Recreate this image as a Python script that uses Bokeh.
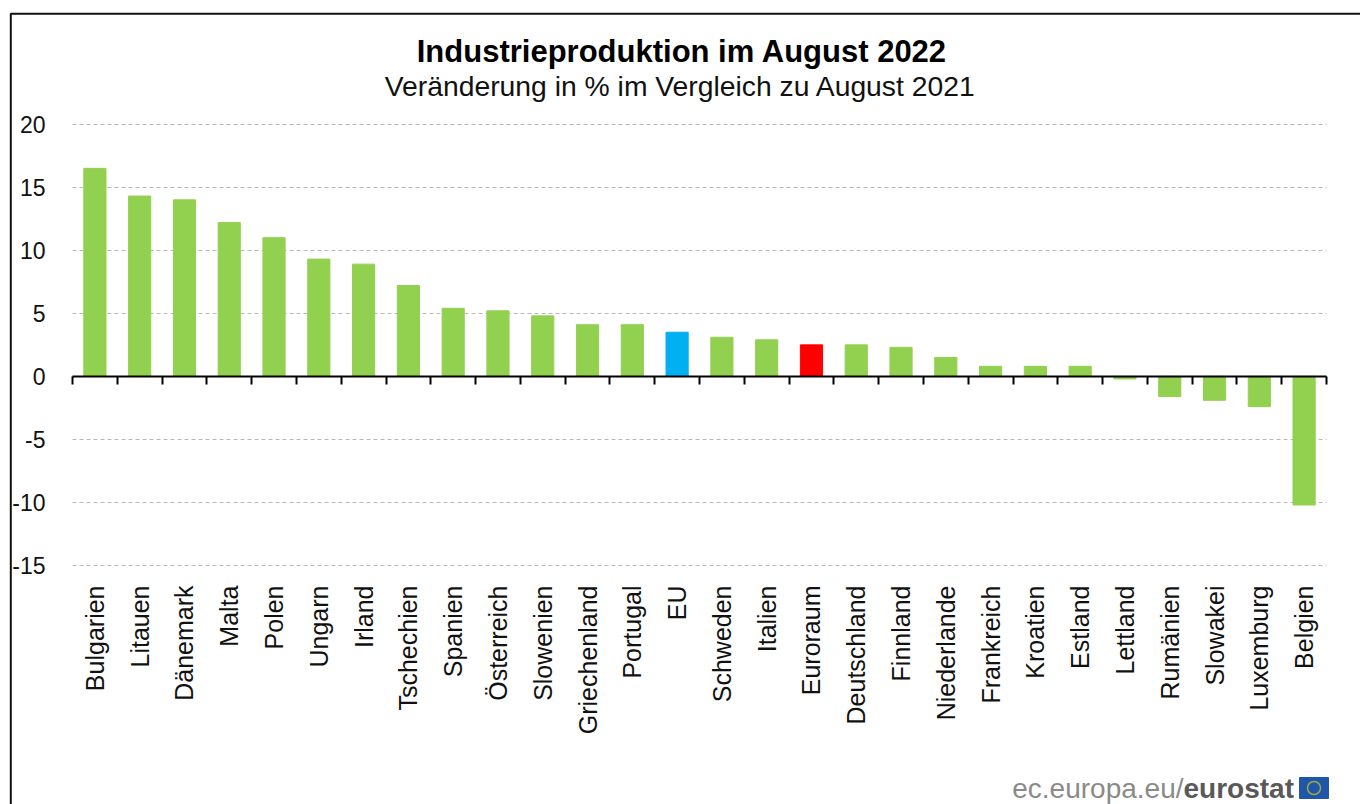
from bokeh.plotting import figure
from bokeh.embed import file_html
from bokeh.resources import INLINE
from bokeh.core.properties import value
from bokeh.models import (ColumnDataSource, Range1d, LinearAxis,
                          FixedTicker, CustomJSTickFormatter)

countries = ["Bulgarien", "Litauen", "Dänemark", "Malta", "Polen", "Ungarn", "Irland", "Tschechien",
             "Spanien", "Österreich", "Slowenien", "Griechenland", "Portugal", "EU", "Schweden",
             "Italien", "Euroraum", "Deutschland", "Finnland", "Niederlande", "Frankreich", "Kroatien",
             "Estland", "Lettland", "Rumänien", "Slowakei", "Luxemburg", "Belgien"]
values = [16.5, 14.3, 14.0, 12.2, 11.0, 9.3, 8.9, 7.2, 5.4, 5.2, 4.8, 4.1, 4.1, 3.5, 3.1, 2.9, 2.5,
          2.5, 2.3, 1.5, 0.8, 0.8, 0.8, -0.2, -1.6, -1.9, -2.4, -10.2]
colors = ["#00b0f0" if c == "EU" else "#ff0000" if c == "Euroraum" else "#92d050" for c in countries]
y_ticks = [-15, -10, -5, 0, 5, 10, 15, 20]
y_labels = {t: str(t) for t in y_ticks}

FONT = "Liberation Sans"
INK = "#111111"
W, H = 1360, 804
n = len(countries)
centres = [i + 0.5 for i in range(n)]

# picture layout in pixels: the plotting area fills the page, the axes sit inside it
AX_LEFT, AX_RIGHT, Y20, Y_M15 = 72.0, 1326.0, 123.7, 565.0
ux = (AX_RIGHT - AX_LEFT) / n
uy = (Y_M15 - Y20) / 35.0
y0 = Y20 + 20 * uy
X = lambda px: (px - AX_LEFT) / ux
Y = lambda py: (y0 - py) / uy

p = figure(width=W, height=H, output_backend="svg", toolbar_location=None,
           x_range=Range1d(X(0), X(W)), y_range=Range1d(Y(H), Y(0)),
           min_border=0, outline_line_color=None,
           background_fill_color="white", border_fill_color="white")
p.xaxis.visible = False
p.yaxis.visible = False
p.xgrid.visible = False

# grid
p.ygrid.ticker = FixedTicker(ticks=y_ticks)
p.ygrid.cross_bounds = (0, n)
p.ygrid.grid_line_color = "#b8b8b8"
p.ygrid.grid_line_dash = "4 3"
p.ygrid.grid_line_width = 1

src = ColumnDataSource(dict(x=centres, top=values, color=colors, name=countries))
p.vbar(x="x", top="top", bottom=0, width=0.495, color="color", source=src)

# value axis
yax = LinearAxis(fixed_location=0, ticker=FixedTicker(ticks=y_ticks), major_label_overrides=y_labels,
                 axis_line_color=None, major_tick_line_color=None, minor_tick_line_color=None,
                 major_label_text_font=FONT, major_label_text_font_size="23px",
                 major_label_text_color=INK, major_label_standoff=21)
p.add_layout(yax, "left")

# category labels below the -15 line
xlab = LinearAxis(fixed_location=-15, ticker=FixedTicker(ticks=centres),
                  major_label_overrides=dict(zip(centres, countries)),
                  axis_line_color=None, major_tick_line_color=None, minor_tick_line_color=None,
                  major_label_orientation=1.5707963267948966,
                  major_label_text_font=FONT, major_label_text_font_size="25px",
                  major_label_text_color=INK, major_label_standoff=14)
p.add_layout(xlab, "below")

# zero line with ticks between the categories
zero = LinearAxis(fixed_location=0, bounds=(0, n),
                  ticker=FixedTicker(ticks=list(range(n + 1))),
                  formatter=CustomJSTickFormatter(code="return ''"),
                  axis_line_color="black", axis_line_width=2,
                  major_tick_line_color="black", major_tick_line_width=2,
                  major_tick_in=0, major_tick_out=8, minor_tick_line_color=None)
p.add_layout(zero, "below")

def text(s, px, py, size, align="center", style="normal", color=INK):
    p.text(x=[X(px)], y=[Y(py)], text=[s], text_font=value(FONT), text_font_size=size,
           text_font_style=style, text_color=color, text_align=align, text_baseline="middle")

text("Industrieproduktion im August 2022", 681.5, 51, "31px", style="bold", color="black")
text("Veränderung in % im Vergleich zu August 2021", 680, 85, "28.3px")
text("ec.europa.eu/", 1183, 788, "28px", align="right", color="#8a8a8a")
text("eurostat", 1183, 788, "28px", align="left", style="bold", color="#595959")

# frame of the picture: its left and top edges
p.line(x=[X(10.3), X(10.3), X(W)], y=[Y(H), Y(13.3), Y(13.3)], line_color="#111111", line_width=2)

# EU flag
p.quad(left=[X(1299)], right=[X(1328)], top=[Y(777)], bottom=[Y(798)], fill_color="#1f56a8", line_color="#1f56a8")
p.scatter(x=[X(1313.5)], y=[Y(787.5)], marker="circle", size=13, fill_color=None,
          line_color="#9aa84a", line_width=1.5)

open("out.html", "w").write(file_html(p, INLINE))
